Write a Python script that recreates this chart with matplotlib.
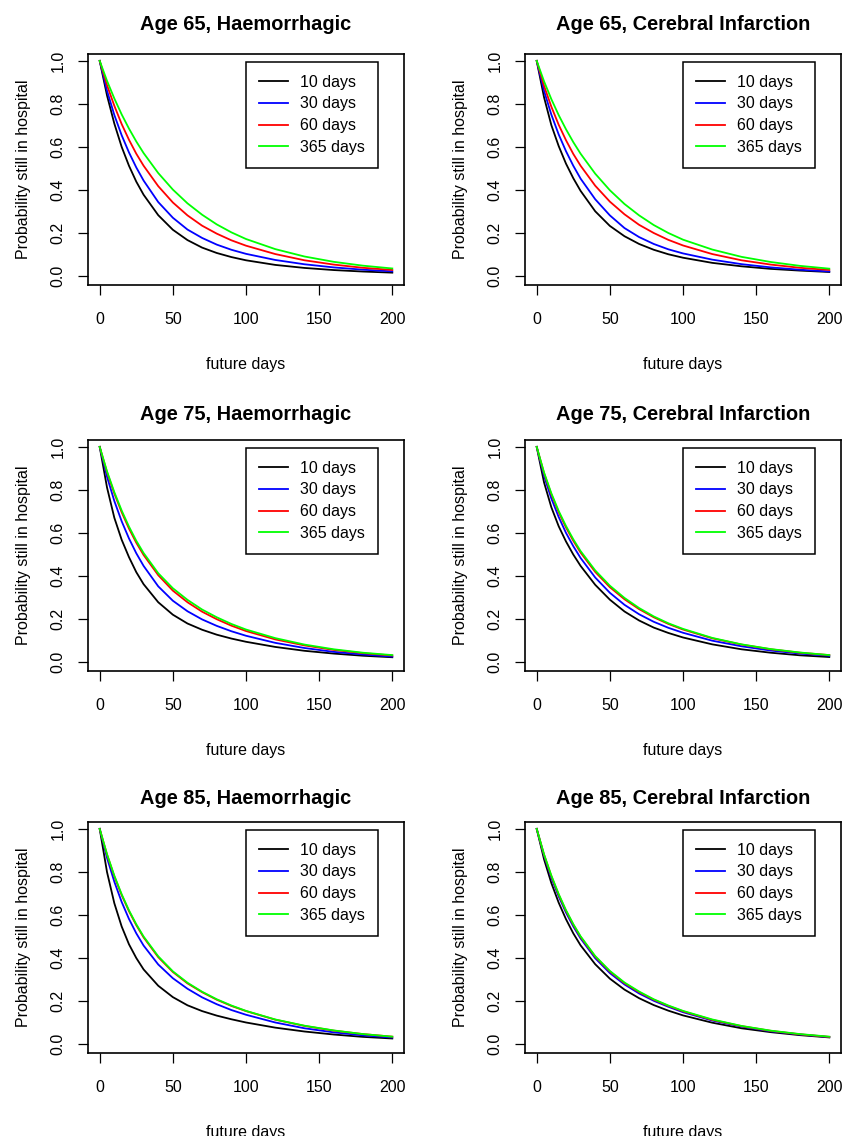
import matplotlib
matplotlib.use("Agg")
import matplotlib.pyplot as plt
from matplotlib.ticker import FixedLocator

plt.rcParams['font.family'] = ['Liberation Sans', 'DejaVu Sans']

days = [0, 5, 10, 15, 20, 25, 30, 40, 50, 60, 70, 80, 90, 100, 120, 140, 160, 180, 200]
series_labels = ["10 days", "30 days", "60 days", "365 days"]
series_colors = ["black", "#0000FF", "#FF0000", "#00FF00"]
titles = ["Age 65, Haemorrhagic", "Age 65, Cerebral Infarction",
          "Age 75, Haemorrhagic", "Age 75, Cerebral Infarction",
          "Age 85, Haemorrhagic", "Age 85, Cerebral Infarction"]
x_ticks = [0, 50, 100, 150, 200]
y_ticks = [0.0, 0.2, 0.4, 0.6, 0.8, 1.0]
y_tick_labels = ["0.0", "0.2", "0.4", "0.6", "0.8", "1.0"]

# Age 65, Haemorrhagic
a65h_10 = [1, .839, .708, .600, .512, .438, .377, .282, .214, .166, .131, .106, .087, .072, .0505, .0364, .0265, .0196, .0145]
a65h_30 = [1, .861, .748, .654, .574, .504, .443, .343, .270, .215, .176, .145, .121, .102, .0735, .0534, .0388, .0282, .0204]
a65h_60 = [1, .887, .791, .706, .633, .568, .512, .417, .341, .281, .233, .196, .165, .140, .101, .072, .052, .037, .027]
a65h_365 = [1, .907, .825, .751, .685, .625, .571, .478, .401, .337, .284, .239, .202, .171, .124, .0896, .0648, .0469, .0339]
# Age 65, Cerebral Infarction
a65c_10 = [1, .831, .701, .604, .522, .454, .395, .300, .232, .184, .148, .121, .100, .084, .060, .044, .032, .024, .0175]
a65c_30 = [1, .861, .750, .658, .580, .512, .452, .356, .281, .222, .180, .148, .123, .104, .075, .054, .039, .028, .020]
a65c_60 = [1, .884, .787, .703, .631, .567, .512, .419, .345, .286, .237, .199, .167, .141, .101, .072, .052, .037, .027]
a65c_365 = [1, .905, .822, .748, .682, .622, .568, .475, .398, .334, .281, .236, .199, .168, .122, .088, .064, .046, .033]
# Age 75, Haemorrhagic
a75h_10 = [1, .811, .670, .568, .487, .417, .361, .277, .219, .178, .149, .126, .108, .093, .069, .051, .038, .028, .021]
a75h_30 = [1, .861, .748, .654, .574, .505, .446, .351, .284, .235, .197, .167, .142, .121, .088, .064, .046, .034, .024]
a75h_60 = [1, .882, .783, .696, .620, .554, .497, .403, .331, .277, .233, .198, .168, .143, .104, .076, .055, .040, .029]
a75h_365 = [1, .886, .789, .704, .629, .563, .506, .412, .342, .288, .243, .207, .176, .150, .110, .080, .058, .042, .031]
# Age 75, Cerebral Infarction
a75c_10 = [1, .835, .719, .631, .560, .499, .446, .358, .289, .234, .192, .159, .134, .113, .081, .058, .042, .030, .022]
a75c_30 = [1, .865, .760, .674, .600, .538, .483, .392, .321, .265, .221, .186, .158, .135, .098, .072, .052, .038, .028]
a75c_60 = [1, .878, .779, .696, .625, .563, .508, .418, .347, .291, .245, .207, .176, .150, .109, .080, .058, .042, .031]
a75c_365 = [1, .881, .784, .702, .632, .570, .515, .425, .354, .297, .250, .211, .179, .153, .111, .081, .059, .043, .031]
# Age 85, Haemorrhagic
a85h_10 = [1, .799, .654, .546, .463, .399, .346, .270, .217, .179, .152, .131, .114, .099, .075, .057, .043, .032, .0245]
a85h_30 = [1, .865, .754, .660, .581, .514, .457, .369, .305, .256, .216, .184, .157, .135, .099, .072, .053, .039, .029]
a85h_60 = [1, .880, .779, .692, .617, .552, .495, .403, .334, .281, .240, .205, .176, .152, .112, .083, .061, .045, .033]
a85h_365 = [1, .882, .782, .696, .621, .556, .499, .407, .337, .284, .242, .207, .178, .153, .113, .084, .062, .045, .033]
# Age 85, Cerebral Infarction
a85c_10 = [1, .859, .748, .657, .580, .514, .458, .370, .303, .252, .212, .180, .154, .132, .098, .072, .054, .040, .0295]
a85c_30 = [1, .875, .772, .686, .611, .546, .490, .398, .329, .276, .234, .200, .172, .147, .108, .080, .058, .043, .031]
a85c_60 = [1, .880, .780, .694, .619, .554, .497, .405, .336, .282, .240, .205, .176, .151, .111, .082, .060, .044, .032]
a85c_365 = [1, .882, .783, .697, .622, .557, .500, .408, .339, .285, .243, .207, .178, .153, .113, .083, .061, .045, .033]

panels = [
    [a65h_10, a65h_30, a65h_60, a65h_365],
    [a65c_10, a65c_30, a65c_60, a65c_365],
    [a75h_10, a75h_30, a75h_60, a75h_365],
    [a75c_10, a75c_30, a75c_60, a75c_365],
    [a85h_10, a85h_30, a85h_60, a85h_365],
    [a85c_10, a85c_30, a85c_60, a85c_365],
]

W, H = 843, 1136
fig = plt.figure(figsize=(W / 100, H / 100), dpi=100)

cols = [(88, 404), (525, 841)]
rows = [(54, 285), (440, 671), (822, 1053)]
title_y = [24, 414, 799]

FS = 11.5
for i, (title, curves) in enumerate(zip(titles, panels)):
    r, c = divmod(i, 2)
    x0, x1 = cols[c]
    y0, y1 = rows[r]
    ax = fig.add_axes([x0 / W, 1 - y1 / H, (x1 - x0) / W, (y1 - y0) / H])
    for vals, lab, col in zip(curves, series_labels, series_colors):
        ax.plot(days, vals, color=col, lw=1.3, label=lab)
    ax.set_xlim(-8, 208)
    ax.set_ylim(-0.043, 1.032)
    ax.xaxis.set_major_locator(FixedLocator(x_ticks))
    ax.yaxis.set_major_locator(FixedLocator(y_ticks))
    ax.set_xticklabels([str(t) for t in x_ticks], fontsize=FS)
    ax.set_yticklabels(y_tick_labels, fontsize=FS, rotation=90, va='center')
    ax.tick_params(direction='out', length=7.2, width=0.9, pad=9, color='black')
    ax.tick_params(axis='x', pad=12)
    for s in ax.spines.values():
        s.set_linewidth(1.2)
        s.set_color('black')
    ax.set_xlabel("future days", fontsize=FS, labelpad=22)
    ax.set_ylabel("Probability still in hospital", fontsize=FS, labelpad=14)
    fig.text((x0 + x1) / 2 / W, 1 - title_y[r] / H, title, fontsize=14.4,
             fontweight='bold', ha='center', va='center')
    leg = ax.legend(loc='upper left', bbox_to_anchor=(100, 0.995),
                    bbox_transform=ax.transData, borderaxespad=0,
                    fontsize=FS, fancybox=False, framealpha=1,
                    edgecolor='black', handlelength=1.8, handletextpad=0.8,
                    borderpad=0.8, labelspacing=0.42)
    leg.get_frame().set_linewidth(1.1)

fig.savefig("out.png", dpi=100)
